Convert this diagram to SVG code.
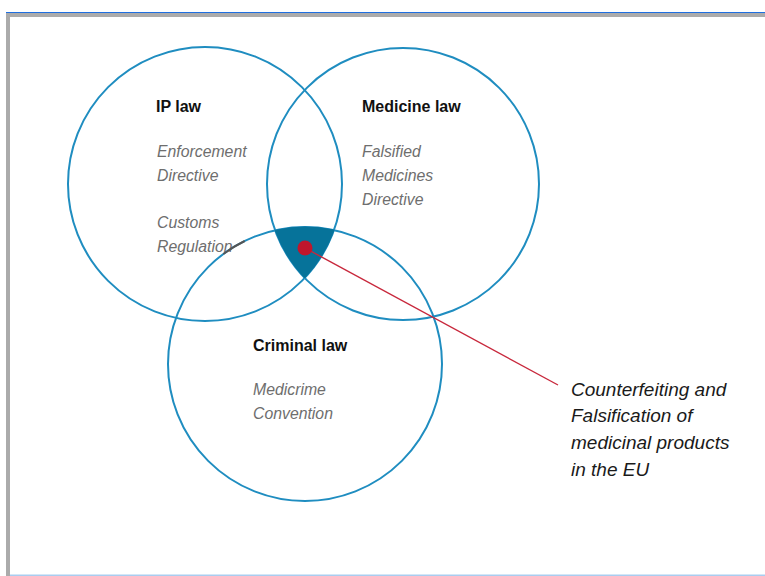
<svg xmlns="http://www.w3.org/2000/svg" width="765" height="576" viewBox="0 0 765 576">
  <style>
    .circle { fill: none; stroke: #1f8dc0; stroke-width: 2; }
    .head { font-family: "Liberation Sans", Arial, sans-serif; font-weight: bold; font-size: 16px; fill: #111; }
    .sub { font-family: "Liberation Sans", Arial, sans-serif; font-style: italic; font-size: 15.8px; fill: #6e6e6e; }
    .callout { font-family: "Liberation Sans", Arial, sans-serif; font-style: italic; font-size: 19px; fill: #1a1a1a; }
  </style>
  <rect x="0" y="0" width="765" height="576" fill="#ffffff"/>
  <g id="frame">
    <rect x="6" y="12" width="759" height="1.2" fill="#1f6fe0"/>
    <rect x="6" y="13" width="759" height="4" fill="#ababab"/>
    <rect x="6" y="13" width="4" height="563" fill="#ababab"/>
    <rect x="10" y="574.5" width="755" height="1.5" fill="#a9cdf0"/>
  </g>
  <g id="ip-law">
    <circle class="circle" cx="205" cy="184" r="137"/>
    <text class="head" x="156" y="112">IP law</text>
    <text class="sub" x="157" y="157">Enforcement</text>
    <text class="sub" x="157" y="181">Directive</text>
    <text class="sub" x="157" y="228">Customs</text>
    <text class="sub" x="157" y="252">Regulation</text>
  </g>
  <g id="medicine-law">
    <circle class="circle" cx="403" cy="184" r="136"/>
    <text class="head" x="362" y="112">Medicine law</text>
    <text class="sub" x="362" y="157">Falsified</text>
    <text class="sub" x="362" y="181">Medicines</text>
    <text class="sub" x="362" y="205">Directive</text>
  </g>
  <g id="criminal-law">
    <circle class="circle" cx="305" cy="364" r="137"/>
    <text class="head" x="253" y="351">Criminal law</text>
    <text class="sub" x="253" y="395">Medicrime</text>
    <text class="sub" x="253" y="419">Convention</text>
  </g>
  <g id="intersection">
    <path d="M 275.3 230.4 A 137 137 0 0 1 334 230.1 A 137 137 0 0 1 304.7 278 A 136 136 0 0 1 275.3 230.4 Z" fill="#06739a" stroke="#06739a" stroke-width="1"/>
  </g>
  <g id="connectors">
    <path d="M 223.3 254 A 137 137 0 0 1 244.7 241" fill="none" stroke="#555" stroke-width="2"/>
    <line x1="305" y1="248" x2="558" y2="385" stroke="#c8283c" stroke-width="1.4"/>
  </g>
  <g id="dot">
    <circle cx="305" cy="248" r="7.5" fill="#c0162c"/>
  </g>
  <g id="callout">
    <text class="callout" x="571" y="396">Counterfeiting and</text>
    <text class="callout" x="571" y="422">Falsification of</text>
    <text class="callout" x="571" y="449">medicinal products</text>
    <text class="callout" x="571" y="476">in the EU</text>
  </g>
</svg>
